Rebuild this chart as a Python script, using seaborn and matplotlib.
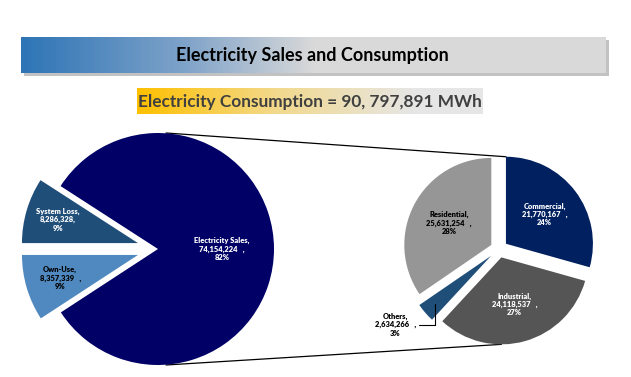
import numpy as np
import matplotlib.pyplot as plt
from matplotlib.colors import LinearSegmentedColormap
from matplotlib.patches import Rectangle
import seaborn as sns

# data
total_label = "Electricity Consumption = 90, 797,891 MWh"
main_names = ["Electricity Sales", "System Loss", "Own-Use"]
main_values = [74154224, 8286328, 8357339]
main_colors = ["#000066", "#1F4E79", "#5089BF"]
main_text = ["white", "white", "black"]

sub_names = ["Commercial", "Industrial", "Others", "Residential"]
sub_values = [21770167, 24118537, 2634266, 25631254]
sub_colors = ["#002060", "#555555", "#1F4E79", "#969696"]
sub_text = ["white", "white", "black", "black"]

total = sum(main_values)

sns.set_theme(style="white")
plt.rcParams["font.family"] = ["Lato", "DejaVu Sans"]

W, H = 631, 377
fig = plt.figure(figsize=(W / 100, H / 100), dpi=100)
ax = fig.add_axes([0, 0, 1, 1])


def py(y):
    # pixel row (from top) -> data y
    return H - y


def label(name, value, sep):
    pct = round(value / total * 100)
    return f"{name},\n{value:,}{sep}\n{pct}%"


# main pie (pie explode is in data units, so scale it by the radius)
c1 = (158, py(249))
r1 = 116
start = 180 + main_values[2] / total * 360
w1, _ = ax.pie(main_values, colors=main_colors, center=c1, radius=r1,
               startangle=start, explode=[0, 0.18 * r1, 0.18 * r1],
               wedgeprops=dict(lw=0), frame=True)

# sub pie
c2 = (499, py(249))
r2 = 87
w2, _ = ax.pie(sub_values, colors=sub_colors, center=c2, radius=r2,
               startangle=90, counterclock=False,
               explode=[0.1 * r2, 0.1 * r2, 0.12 * r2, 0.1 * r2],
               wedgeprops=dict(lw=0), frame=True)
ax.set_xlim(0, W)
ax.set_ylim(0, H)
ax.axis("off")

# title bar with gradient and shadow
ax.add_patch(Rectangle((23.5, py(75.5)), 585, 36, color="#9a9a9a", alpha=0.6, lw=0))
bar_cmap = LinearSegmentedColormap.from_list(
    "bar", [(0, "#2E75B6"), (0.28, "#7FA3C9"), (0.5, "#D9D9D9"), (1, "#D9D9D9")])
grad = np.linspace(0, 1, 300).reshape(1, -1)
ax.imshow(grad, cmap=bar_cmap, extent=[21, 606, py(73), py(37)], aspect="auto", zorder=2)
ax.text(312, py(55), "Electricity Sales and Consumption", ha="center", va="center",
        fontsize=13, fontweight="bold", color="black", zorder=3)

# subtitle box
sub_cmap = LinearSegmentedColormap.from_list(
    "sub", [(0, "#FFC000"), (0.4, "#F2D98C"), (0.8, "#E6E6E6"), (1, "#E6E6E6")])
ax.imshow(grad, cmap=sub_cmap, extent=[137, 483, py(114), py(88)], aspect="auto", zorder=2)
ax.text(310, py(101.5), total_label, ha="center", va="center",
        fontsize=12.4, fontweight="bold", color="#404040", zorder=3)
ax.set_xlim(0, W)
ax.set_ylim(0, H)


def mid(w, dist):
    a = np.deg2rad((w.theta1 + w.theta2) / 2)
    return w.center[0] + dist * w.r * np.cos(a), w.center[1] + dist * w.r * np.sin(a)


fs = 5.4
main_dist = [0.55, 0.72, 0.7]
main_sep = ["   ,", ",", "   ,"]
for w, n, v, d, s, tc in zip(w1, main_names, main_values, main_dist, main_sep, main_text):
    x, y = mid(w, d)
    ax.text(x, y, label(n, v, s), ha="center", va="center", fontsize=fs,
            fontweight="heavy", color=tc, linespacing=1.2)

sub_dist = [0.56, 0.56, 1.35, 0.55]
for w, n, v, d, tc in zip(w2, sub_names, sub_values, sub_dist, sub_text):
    x, y = mid(w, d)
    txt = label(n, v, "   ,")
    if n == "Others":
        ex, ey = mid(w, 0.85)
        ax.annotate(txt, xy=(ex, ey), xytext=(x - 7, y + 8), ha="center", va="center",
                    fontsize=fs, fontweight="heavy", color=tc, linespacing=1.2,
                    arrowprops=dict(arrowstyle="-", lw=0.8, color="black",
                                    connectionstyle="angle,angleA=0,angleB=90,rad=0",
                                    shrinkA=0, shrinkB=0))
    else:
        ax.text(x, y, txt, ha="center", va="center", fontsize=fs,
                fontweight="heavy", color=tc, linespacing=1.2)

# connector lines between the two pies
top_l = (w1[0].center[0] + 8, w1[0].center[1] + r1)
bot_l = (w1[0].center[0] + 8, w1[0].center[1] - r1)
top_r = (w2[0].center[0], w2[0].center[1] + r2)
bot_r = (w2[1].center[0], w2[1].center[1] - r2)
ax.plot([top_l[0], top_r[0]], [top_l[1], top_r[1]], color="black", lw=0.9, zorder=0)
ax.plot([bot_l[0], bot_r[0]], [bot_l[1], bot_r[1]], color="black", lw=0.9, zorder=0)

fig.savefig("out.png", dpi=100)
